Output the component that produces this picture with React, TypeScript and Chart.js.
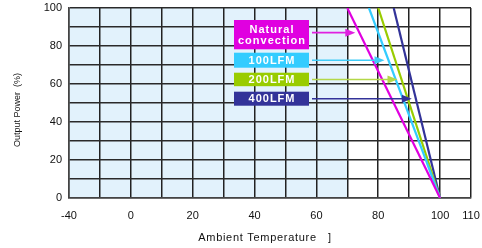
import React, { useEffect, useRef } from 'react';
import { Chart, registerables } from 'chart.js';

Chart.register(...registerables);

// ---- data ----
const seriesNames = ['Natural convection', '100LFM', '200LFM', '400LFM'];
const legendText = [['Natural', 'convection'], ['100LFM'], ['200LFM'], ['400LFM']];
const derateStartTemp = [70, 77, 80, 85];
const derateStartPower = [100, 100, 100, 100];
const zeroPowerTemp = [100, 100, 100, 100];
const zeroPowerValue = [0, 0, 0, 0];
const lineColors = ['#e000e0', '#33ccff', '#99cc00', '#333399'];
const arrowColors = ['#e020e0', '#40ccf8', '#b4d848', '#333399'];
const xTickValues = [-20, 0, 20, 40, 60, 80, 100, 110];
const xTickLabels = ['-40', '0', '20', '40', '60', '80', '100', '110'];
const yTickLabels = [0, 20, 40, 60, 80, 100];
const shadeUntilTemp = 70;
const xTitle = 'Ambient Temperature   ]';
const yTitle = 'Output Power  (%)';

const FONT = "'Liberation Sans', Arial, sans-serif";

// legend box layout (pixels relative to chart area top-left)
const boxLeft = 165;
const boxWidth = 75;
const boxTops = [12, 44.7, 64.7, 83.7];
const boxHeights = [29.3, 15, 13.5, 14];

const overlayPlugin = {
  id: 'overlay',
  beforeDraw(chart: any) {
    const { ctx, chartArea, scales } = chart;
    const x = scales.x;
    ctx.save();
    ctx.fillStyle = '#e2f2fc';
    const right = x.getPixelForValue(shadeUntilTemp);
    ctx.fillRect(chartArea.left, chartArea.top, right - chartArea.left, chartArea.bottom - chartArea.top);
    ctx.restore();
  },
  afterDraw(chart: any) {
    const { ctx, chartArea, scales } = chart;
    const x = scales.x;
    const y = scales.y;
    ctx.save();
    // legend boxes
    for (let i = 0; i < seriesNames.length; i++) {
      const bx = chartArea.left + boxLeft;
      const by = chartArea.top + boxTops[i];
      const bh = boxHeights[i];
      ctx.fillStyle = lineColors[i];
      ctx.fillRect(bx, by, boxWidth, bh);
      ctx.fillStyle = '#ffffff';
      ctx.font = `bold 11px ${FONT}`;
      (ctx as any).letterSpacing = '1px';
      ctx.textAlign = 'center';
      ctx.textBaseline = 'middle';
      const lines = legendText[i];
      const cy = by + bh / 2;
      lines.forEach((t, j) => {
        const ly = cy + (j - (lines.length - 1) / 2) * 11;
        ctx.fillText(t, bx + boxWidth / 2 + 0.5, ly + 0.5);
      });
      (ctx as any).letterSpacing = '0px';
      // arrow
      const ay = cy - (i === 0 ? 2 : 0);
      const val = y.getValueForPixel(ay);
      const t0 = derateStartTemp[i];
      const t1 = zeroPowerTemp[i];
      const p0 = derateStartPower[i];
      const p1 = zeroPowerValue[i];
      const temp = t0 + ((val - p0) / (p1 - p0)) * (t1 - t0);
      const tipX = x.getPixelForValue(temp) - 4;
      const startX = bx + boxWidth + 3;
      ctx.strokeStyle = arrowColors[i];
      ctx.fillStyle = arrowColors[i];
      ctx.lineWidth = 1.6;
      ctx.beginPath();
      ctx.moveTo(startX, ay);
      ctx.lineTo(tipX - 8, ay);
      ctx.stroke();
      ctx.beginPath();
      ctx.moveTo(tipX, ay);
      ctx.lineTo(tipX - 10, ay - 4);
      ctx.lineTo(tipX - 10, ay + 4);
      ctx.closePath();
      ctx.fill();
    }
    // axis titles
    ctx.fillStyle = '#111';
    ctx.font = `11px ${FONT}`;
    (ctx as any).letterSpacing = '0.7px';
    ctx.textAlign = 'center';
    ctx.textBaseline = 'middle';
    ctx.fillText(xTitle, 265, 238);
    (ctx as any).letterSpacing = '0px';
    ctx.translate(18, 110);
    ctx.rotate(-Math.PI / 2);
    ctx.font = `9px ${FONT}`;
    ctx.fillText(yTitle, 0, 0);
    ctx.restore();
  },
};

const zeroPad = (s: any) => {
  s.paddingTop = 0;
  s.paddingBottom = 0;
  s.paddingLeft = 0;
  s.paddingRight = 0;
};

export default function App() {
  const ref = useRef<HTMLCanvasElement>(null);
  useEffect(() => {
    if (!ref.current) return;
    Chart.defaults.font.family = FONT;
    const datasets = seriesNames.map((name, i) => ({
      label: name,
      data: [
        { x: derateStartTemp[i], y: derateStartPower[i] },
        { x: zeroPowerTemp[i], y: zeroPowerValue[i] },
      ],
      borderColor: lineColors[i],
      backgroundColor: lineColors[i],
      borderWidth: 2.2,
      pointRadius: 0,
      tension: 0,
      fill: false,
    }));
    const chart = new Chart(ref.current, {
      type: 'line',
      data: { datasets },
      options: {
        animation: false,
        responsive: false,
        devicePixelRatio: 1,
        layout: { padding: { left: 0, top: 8, right: 11, bottom: 0 } },
        plugins: { legend: { display: false }, tooltip: { enabled: false } },
        scales: {
          x: {
            type: 'linear',
            min: -20,
            max: 110,
            afterFit: (s: any) => { s.height = 50; zeroPad(s); },
            afterBuildTicks: (s: any) => {
              const ticks = [];
              for (let v = -20; v <= 110; v += 10) ticks.push({ value: v });
              s.ticks = ticks;
            },
            ticks: {
              autoSkip: false,
              maxRotation: 0,
              padding: 11,
              color: '#111',
              font: { size: 11 },
              callback: (v: any) => {
                const idx = xTickValues.indexOf(Number(v));
                return idx >= 0 ? xTickLabels[idx] : '';
              },
            },
            grid: { color: '#222', lineWidth: 1.5, drawTicks: false },
            border: { display: true, color: '#444', width: 1.5 },
          },
          y: {
            type: 'linear',
            min: 0,
            max: 100,
            afterFit: (s: any) => { s.width = 69; zeroPad(s); },
            ticks: {
              stepSize: 10,
              padding: 7,
              color: '#111',
              font: { size: 11 },
              callback: (v: any) => (yTickLabels.includes(Number(v)) ? String(v) : ''),
            },
            grid: { color: '#2a2a2a', lineWidth: 1.5, drawTicks: false },
            border: { display: true, color: '#444', width: 1.5 },
          },
        },
      },
      plugins: [overlayPlugin],
    });
    return () => chart.destroy();
  }, []);
  return (
    <div style={{ position: 'fixed', left: 0, top: 0, width: 482, height: 248, background: '#fff' }}>
      <canvas ref={ref} width={482} height={248} style={{ display: 'block' }} />
    </div>
  );
}
